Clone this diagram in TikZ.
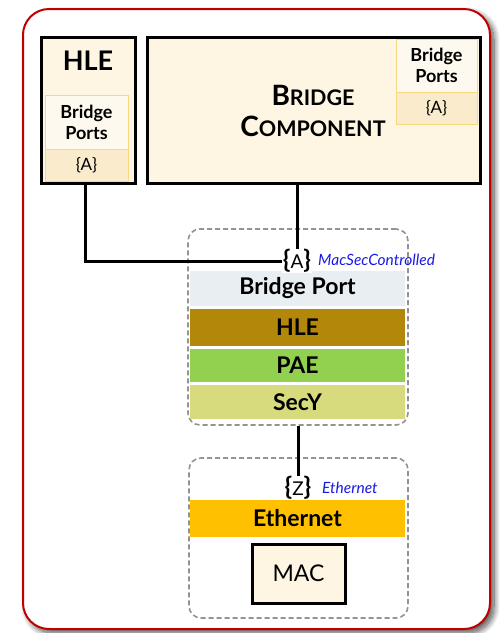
\documentclass[tikz,border=0pt]{standalone}
\usepackage{fontspec}
\setmainfont{Lato}
\usetikzlibrary{shadows.blur}
\definecolor{frameRed}{HTML}{C00000}
\definecolor{cream}{HTML}{FEF6E3}
\definecolor{bpfill}{HTML}{FEF9EF}
\definecolor{afill}{HTML}{FBEBCD}
\definecolor{bpline}{HTML}{F8D981}
\definecolor{barPort}{HTML}{E9EEF3}
\definecolor{barHLE}{HTML}{B38709}
\definecolor{barPAE}{HTML}{92D050}
\definecolor{barSecY}{HTML}{D7DB7E}
\definecolor{barEth}{HTML}{FFC000}
\definecolor{lblue}{HTML}{1A1AE6}
\tikzset{
  bigbox/.style={draw=black, line width=3pt, fill=cream, inner sep=0pt},
  portsbox/.style={draw=bpline, line width=1pt, fill=bpfill, inner sep=0pt, align=center,
     font=\fontsize{18}{21}\selectfont\bfseries},
  abox/.style={draw=bpline, line width=1pt, fill=afill, inner sep=0pt,
     font=\fontsize{17}{19}\selectfont},
  dashbox/.style={draw=gray!85, dash pattern=on 5pt off 3pt, line width=1.6pt, rounded corners=12pt, inner sep=0pt},
  bar/.style={inner sep=0pt, minimum width=215pt, font=\fontsize{23}{25}\selectfont\bfseries},
  brace/.style={fill=white, inner sep=0.5pt, font=\fontsize{19}{21}\selectfont},
  blbl/.style={anchor=west, text=lblue, inner sep=0pt, font=\fontsize{15.5}{17}\selectfont\itshape},
  conn/.style={line width=3pt, draw=black}
}
\newcommand{\bbr}[1]{{\bfseries\fontsize{25}{25}\selectfont #1}}
\begin{document}
\begin{tikzpicture}[x=1pt,y=-1pt]
\useasboundingbox (0,0) rectangle (502,633);
% outer frame
\node[draw=frameRed, line width=2pt, fill=white, rounded corners=26pt, minimum width=467pt, minimum height=620pt,
  inner sep=0pt, blur shadow={shadow xshift=4pt, shadow yshift=-4pt, shadow blur steps=14, shadow opacity=70, shadow blur radius=6pt}]
  (frame) at (256.5,319) {};
% HLE box
\node[bigbox, minimum width=94pt, minimum height=146pt] (hle) at (88,110) {};
\node[inner sep=0pt, font=\fontsize{27}{29}\selectfont\bfseries] (hlet) at (88,61) {HLE};
\node[portsbox, minimum width=83pt, minimum height=54pt] (hlebp) at (86.5,122) {Bridge\\Ports};
\node[abox, minimum width=83pt, minimum height=32pt] (hlea) at (86.5,165) {\{A\}};
% Bridge component
\node[bigbox, minimum width=333pt, minimum height=146pt] (bc) at (313.5,110) {};
\node[inner sep=0pt, align=center, font=\fontsize{21.5}{31}\selectfont\bfseries] (bct) at (313,111)
  {{\fontsize{28}{31}\selectfont B}RIDGE\\
   {\fontsize{28}{31}\selectfont C}OMPONENT};
\node[portsbox, minimum width=81pt, minimum height=53pt] (bcbp) at (436.5,65.5) {Bridge\\Ports};
\node[abox, minimum width=81pt, minimum height=32pt] (bca) at (436.5,108) {\{A\}};
% port stack 1
\node[dashbox, minimum width=220pt, minimum height=196pt] (port1) at (298,327) {};
\node[bar, fill=barPort, minimum height=35pt] (bpbar) at (297.5,288.5) {Bridge Port};
\node[bar, fill=barHLE, minimum height=37pt] (hlebar) at (297.5,327.5) {HLE};
\node[bar, fill=barPAE, minimum height=33pt] (paebar) at (297.5,365.5) {PAE};
\node[bar, fill=barSecY, minimum height=34pt] (secybar) at (297.5,402) {SecY};
\node[brace] (portA) at (297,261) {\bbr{\{}A\bbr{\}}};
\node[blbl] (macsec) at (318,260) {MacSecControlled};
% port stack 2
\node[dashbox, minimum width=219pt, minimum height=160pt] (port2) at (298.5,538) {};
\node[bar, fill=barEth, minimum height=37pt] (ethbar) at (297.5,518.5) {Ethernet};
\node[draw=black, line width=3pt, fill=cream, minimum width=93pt, minimum height=59pt, inner sep=0pt,
  font=\fontsize{23}{25}\selectfont] (mac) at (298.5,573.5) {MAC};
\node[brace] (portZ) at (298,488) {\bbr{\{}Z\bbr{\}}};
\node[blbl] (ethlbl) at (322,488) {Ethernet};
% connectors
\draw[conn] ([xshift=-3pt]hle.south) |- (portA.west);
\draw[conn] (portA.north) -- (portA.north |- bc.south);
\draw[conn] (portZ.north) -- (portZ.north |- port1.south);
\end{tikzpicture}
\end{document}
